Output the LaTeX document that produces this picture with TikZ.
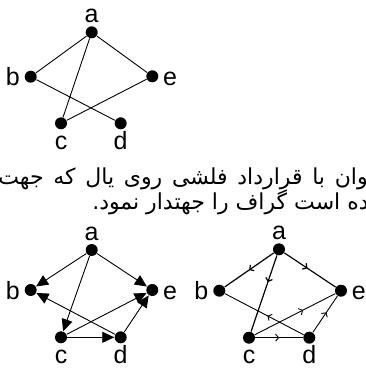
\documentclass[tikz,border=0pt]{standalone}
\usepackage{fontspec}
\setmainfont{Liberation Sans}
\newfontfamily\farsifont[Script=Arabic]{DejaVu Sans}
\TeXXeTstate=1
\usetikzlibrary{arrows.meta,positioning,decorations.markings}
\begin{document}
\begin{tikzpicture}[x=1pt, y=-1pt, line width=0.9pt,
    every node/.style={font=\fontsize{25}{30}\selectfont},
    vtx/.style={circle, fill=black, inner sep=0pt, minimum size=12pt},
    lbl/.style={inner sep=0pt, text height=18pt, text depth=0pt},
    farsi/.style={anchor=base east, inner sep=0pt, font=\farsifont\fontsize{22}{25}\selectfont},
    big/.style={-{Triangle[length=12pt,width=11pt]}},
    mid/.style={postaction={decorate}, decoration={markings,
        mark=at position #1 with {\arrow{Straight Barb[length=3pt,width=7pt]}}}},
    mid/.default=0.5]
    \useasboundingbox (0,0) rectangle (365,370);
    \clip (0,0) rectangle (365,370);
    % undirected graph
    \node[vtx] (a1) at (91.7,32.3) {};
    \node[vtx] (b1) at (30.7,76.7) {};
    \node[vtx] (e1) at (152.3,76.3) {};
    \node[vtx] (c1) at (61,123.3) {};
    \node[vtx] (d1) at (120.7,123.3) {};
    \node[lbl, above=3pt of a1] (la1) {a};
    \node[lbl, left=4pt of b1] (lb1) {b};
    \node[lbl, right=4pt of e1] (le1) {e};
    \node[lbl, below=1pt of c1] (lc1) {c};
    \node[lbl, below=1pt of d1] (ld1) {d};
    \draw (a1)--(b1) (a1)--(e1) (a1)--(c1) (b1)--(d1) (e1)--(c1);
    % text
    \node[farsi] (t1) at (375,184) {\spaceskip=9.7pt\beginR توان با قرارداد فلشی روی یال که جهت\endR};
    \node[farsi] (t2) at (385,209) {\beginR داده است گراف را جهتدار نمود.\endR};
    % directed graph, big tips
    \node[vtx] (a2) at (91.7,250) {};
    \node[vtx] (b2) at (30.7,290) {};
    \node[vtx] (e2) at (152.3,290) {};
    \node[vtx] (c2) at (61,337.3) {};
    \node[vtx] (d2) at (120.7,337.3) {};
    \node[lbl, above=3pt of a2] (la2) {a};
    \node[lbl, left=4pt of b2] (lb2) {b};
    \node[lbl, right=4pt of e2] (le2) {e};
    \node[lbl, below=1pt of c2] (lc2) {c};
    \node[lbl, below=1pt of d2] (ld2) {d};
    \draw[big] (a2)--(b2);
    \draw[big] (a2)--(e2);
    \draw[big] (a2)--(c2);
    \draw[big] (c2)--(d2);
    \draw[big] (c2)--(e2);
    \draw[big] (d2)--(b2);
    \draw[big] (d2)--(e2);
    % directed graph, mid arrows
    \node[vtx] (a3) at (279,249.3) {};
    \node[vtx] (b3) at (219.3,290.7) {};
    \node[vtx] (e3) at (341,290.7) {};
    \node[vtx] (c3) at (249,337.7) {};
    \node[vtx] (d3) at (309.3,337.7) {};
    \node[lbl, above=3pt of a3] (la3) {a};
    \node[lbl, left=4pt of b3] (lb3) {b};
    \node[lbl, right=4pt of e3] (le3) {e};
    \node[lbl, below=1pt of c3] (lc3) {c};
    \node[lbl, below=1pt of d3] (ld3) {d};
    \draw[mid, line width=1.2pt] (a3)--(b3);
    \draw[mid=0.35, line width=1.2pt] (a3)--(c3);
    \draw[mid=0.45, line width=1.2pt] (a3)--(e3);
    \draw[mid=0.46] (d3)--(b3);
    \draw[mid=0.6] (c3)--(e3);
    \draw[mid] (c3)--(d3);
    \draw[mid=0.55] (d3)--(e3);
\end{tikzpicture}
\end{document}
